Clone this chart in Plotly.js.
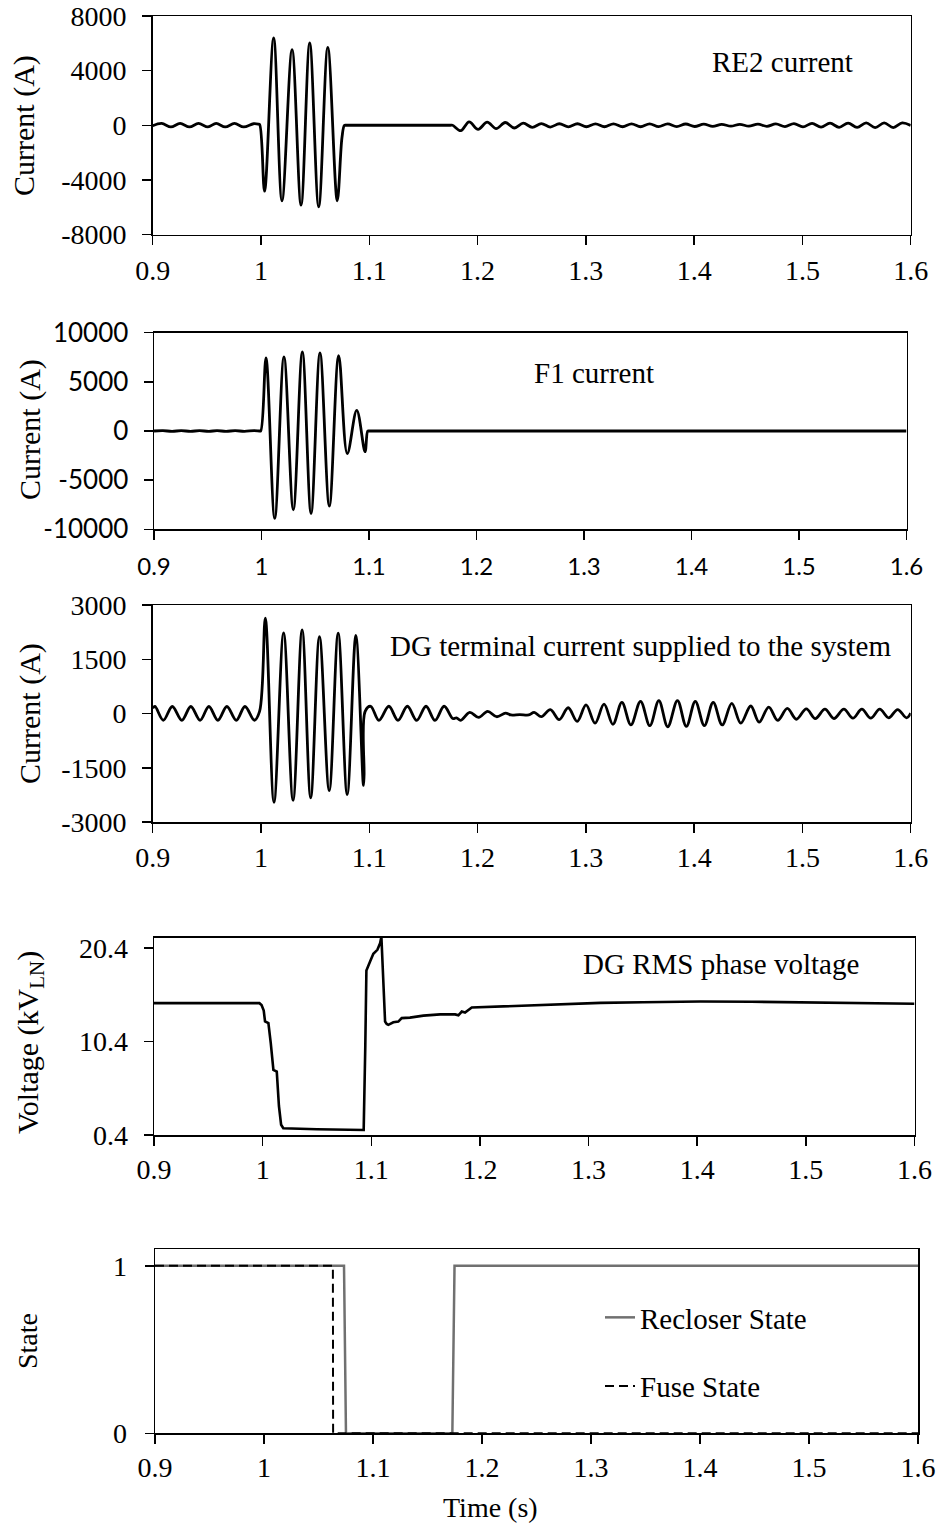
<!DOCTYPE html>
<html>
<head>
<meta charset="utf-8">
<script src="https://cdn.plot.ly/plotly-3.0.1.min.js"></script>
<style>
  html, body { margin: 0; padding: 0; background: #ffffff; }
  #chart { width: 937px; height: 1527px; }
</style>
</head>
<body>
<div id="chart"></div>
<script>
// ---- Recloser RE2 current (A) ----
const re2Time = [
  0.9000, 0.9083, 0.9168, 0.9253, 0.9340, 0.9423, 0.9510, 0.9586, 0.9670, 0.9755, 0.9840, 0.9931, 0.9975, 0.9988,
  1.0033, 1.0117, 1.0194, 1.0287, 1.0370, 1.0450, 1.0533, 1.0617, 1.0704, 1.0748, 1.0771, 1.0790,
  1.1750, 1.1769,
  1.1845, 1.1922, 1.2005, 1.2089, 1.2172, 1.2255, 1.2339, 1.2422, 1.2505, 1.2589,
  1.2672, 1.2755, 1.2839, 1.2922, 1.3005, 1.3089, 1.3172, 1.3255, 1.3339, 1.3422,
  1.3505, 1.3589, 1.3672, 1.3755, 1.3839, 1.3922, 1.4005, 1.4089, 1.4172, 1.4255,
  1.4339, 1.4422, 1.4505, 1.4589, 1.4672, 1.4755, 1.4839, 1.4922, 1.5005, 1.5089,
  1.5172, 1.5255, 1.5339, 1.5422, 1.5505, 1.5589, 1.5672, 1.5755, 1.5839, 1.5922, 1.6000
];
const re2Current = [
  -40, 130, -120, 130, -120, 130, -120, 130, -120, 130, -120, 110, 80, 40,
  -4830, 6390, -5530, 5535, -5850, 6025, -5970, 5700, -5530, -900, 0, 0,
  0, 0,
  -400, 250, -300, 230, -250, 200, -200, 150, -150, 120,
  -130, 110, -120, 110, -110, 100, -110, 100, -110, 100,
  -110, 100, -100, 100, -100, 90, -90, 80, -80, 70,
  -70, 70, -70, 80, -80, 100, -100, 120, -120, 140,
  -140, 150, -150, 160, -160, 170, -170, 170, -170, 170, -20
];

// ---- Fuse F1 current (A) ----
const f1Time = [
  0.9000, 0.9083, 0.9168, 0.9253, 0.9340, 0.9423, 0.9510, 0.9586, 0.9670, 0.9755, 0.9840, 0.9931, 0.9980, 0.9993,
  1.0042, 1.0123, 1.0209, 1.0296, 1.0380, 1.0461, 1.0544, 1.0631, 1.0718, 1.0798, 1.0886, 1.0963,
  1.0988, 1.1000, 1.6000
];
const f1Current = [
  0, 40, -40, 40, -40, 40, -40, 40, -40, 40, -40, 40, 0, 0,
  7434, -8894, 7535, -8012, 8043, -8387, 7941, -7637, 7677, -2302, 2100, -2100,
  0, 0, 0
];

// ---- DG terminal current supplied to the system (A) ----
const dgTime = [
  0.9000, 0.9021, 0.9098, 0.9181, 0.9269, 0.9352, 0.9438, 0.9519, 0.9602, 0.9685, 0.9772, 0.9852, 0.9938, 0.9987,
  1.0040, 1.0120, 1.0209, 1.0296, 1.0380, 1.0459, 1.0540, 1.0630, 1.0713, 1.0796, 1.0876, 1.0946,
  1.0952, 1.0962,
  1.1013, 1.1089, 1.1181, 1.1265, 1.1352, 1.1438, 1.1524, 1.1607, 1.1691,
  1.1772, 1.1805, 1.1845, 1.1928, 1.2010, 1.2093, 1.2176, 1.2258, 1.2308, 1.2390, 1.2473, 1.2523, 1.2589,
  1.2672, 1.2754, 1.2837, 1.2920, 1.3002, 1.3085, 1.3168, 1.3250, 1.3333, 1.3416,
  1.3505, 1.3591, 1.3674, 1.3756, 1.3846, 1.3928, 1.4011, 1.4094, 1.4176, 1.4259,
  1.4348, 1.4431, 1.4523, 1.4600, 1.4689, 1.4772, 1.4861, 1.4944, 1.5036, 1.5119,
  1.5208, 1.5291, 1.5383, 1.5466, 1.5549, 1.5631, 1.5714, 1.5797, 1.5879, 1.5962, 1.6000
];
const dgCurrent = [
  150, 194, -186, 194, -186, 194, -186, 194, -186, 194, -186, 194, -186, 60,
  2639, -2456, 2230, -2400, 2314, -2333, 2128, -2130, 2222, -2241, 2156, -1990,
  -1700, 60,
  200, -190, 200, -190, 200, -190, 200, -190, 200,
  -139, -119, -188, 30, -109, 60, -89, 10, -40, -30, -40, 30, -89,
  109, -169, 159, -218, 238, -268, 258, -298, 308, -317,
  337, -337, 357, -367, 357, -357, 337, -337, 308, -317,
  278, -268, 208, -238, 179, -188, 139, -159, 129, -139,
  119, -139, 119, -129, 119, -129, 119, -119, 109, -119, 10
];

// ---- DG RMS phase voltage (kV line-to-neutral) ----
const vTime = [
  0.9000, 0.9970, 0.9990, 1.0010, 1.0022, 1.0053, 1.0075, 1.0099, 1.0130, 1.0150, 1.0170, 1.0190,
  1.0500, 1.0930, 1.0945, 1.0955, 1.0989, 1.1019, 1.1056, 1.1081, 1.1093,
  1.1127, 1.1142, 1.1157, 1.1203, 1.1249, 1.1280, 1.1356, 1.1480, 1.1634,
  1.1772, 1.1802, 1.1833, 1.1863, 1.1925, 1.2094, 1.2554, 1.3109, 1.3500,
  1.4029, 1.4500, 1.4949, 1.5500, 1.6000
];
const vRms = [
  14.5, 14.5, 14.3, 13.7, 12.55, 12.36, 10.2, 7.36, 7.18, 3.5, 1.5, 1.12,
  1.02, 0.94, 10.0, 18.0, 18.95, 19.78, 20.2, 20.9, 21.6,
  12.53, 12.28, 12.18, 12.45, 12.53, 12.9, 12.95, 13.17, 13.3,
  13.3, 13.2, 13.6, 13.5, 14.03, 14.1, 14.26, 14.53, 14.6,
  14.67, 14.65, 14.6, 14.5, 14.43
];

// ---- Protective device states ----
const recloserTime = [0.9000, 1.0734, 1.0752, 1.1728, 1.1748, 1.6000];
const recloserState = [1, 1, 0, 0, 1, 1];
const fuseTime = [0.9000, 1.0632, 1.0634, 1.6000];
const fuseState = [1, 1, 0, 0];

// ---- Tick labels ----
const timeTicks = [0.9, 1.0, 1.1, 1.2, 1.3, 1.4, 1.5, 1.6];
const timeLabels = ['0.9', '1', '1.1', '1.2', '1.3', '1.4', '1.5', '1.6'];
const re2Ticks = [-8000, -4000, 0, 4000, 8000];
const re2Labels = ['-8000', '-4000', '0', '4000', '8000'];
const f1Ticks = [-10000, -5000, 0, 5000, 10000];
const f1Labels = ['-10000', '-5000', '0', '5000', '10000'];
const dgTicks = [-3000, -1500, 0, 1500, 3000];
const dgLabels = ['-3000', '-1500', '0', '1500', '3000'];
const vTicks = [0.4, 10.4, 20.4];
const vLabels = ['0.4', '10.4', '20.4'];
const stateTicks = [0, 1];
const stateLabels = ['0', '1'];

// ---- Layout helpers (page pixels -> paper fractions) ----
const W = 937, H = 1527;
const SERIF = 'Liberation Serif, Times New Roman, serif';
const SANS = 'Lato, Liberation Sans, sans-serif';
const fx = px => px / W;
const fy = py => 1 - py / H;

function xAxis(left, right, anchor, font, standoff) {
  return {
    domain: [fx(left), fx(right)], anchor: anchor, range: [0.9, 1.6],
    tickmode: 'array', tickvals: timeTicks, ticktext: timeLabels,
    ticks: 'outside', ticklen: 9, tickwidth: 1.5, tickcolor: '#000',
    showline: true, linecolor: '#000', linewidth: 1.5, mirror: true,
    showgrid: false, zeroline: false, fixedrange: true,
    tickfont: font, ticklabelstandoff: standoff
  };
}
function yAxis(top, bottom, anchor, range, vals, text, font, standoff) {
  return {
    domain: [fy(bottom), fy(top)], anchor: anchor, range: range,
    tickmode: 'array', tickvals: vals, ticktext: text,
    ticks: 'outside', ticklen: 9, tickwidth: 1.5, tickcolor: '#000',
    showline: true, linecolor: '#000', linewidth: 1.5, mirror: true,
    showgrid: false, zeroline: false, fixedrange: true,
    tickfont: font, ticklabelstandoff: standoff
  };
}

const serifTick = { family: SERIF, size: 28, color: '#000' };
const sansTickY = { family: SANS, size: 26, color: '#000' };
const sansTickX = { family: SANS, size: 24, color: '#000' };
const waveLine = { color: '#000', width: 2.8, shape: 'spline', smoothing: 1 };

const traces = [
  { x: re2Time, y: re2Current, xaxis: 'x', yaxis: 'y', mode: 'lines', line: waveLine, showlegend: false, hoverinfo: 'skip' },
  { x: f1Time, y: f1Current, xaxis: 'x2', yaxis: 'y2', mode: 'lines', line: waveLine, showlegend: false, hoverinfo: 'skip' },
  { x: dgTime, y: dgCurrent, xaxis: 'x3', yaxis: 'y3', mode: 'lines', line: waveLine, showlegend: false, hoverinfo: 'skip' },
  { x: vTime, y: vRms, xaxis: 'x4', yaxis: 'y4', mode: 'lines', line: { color: '#000', width: 2.6 }, showlegend: false, hoverinfo: 'skip' },
  { x: recloserTime, y: recloserState, xaxis: 'x5', yaxis: 'y5', mode: 'lines', name: 'Recloser State',
    legendgroup: 'rec', line: { color: '#707070', width: 2.5 }, hoverinfo: 'skip' },
  { x: fuseTime, y: fuseState, xaxis: 'x5', yaxis: 'y5', mode: 'lines', name: 'Fuse State',
    legendgroup: 'fuse', line: { color: '#000', width: 2, dash: '9px,5px' }, hoverinfo: 'skip' }
];

function label(text, px, py, size, angle) {
  return {
    text: text, xref: 'paper', yref: 'paper', x: fx(px), y: fy(py),
    xanchor: 'center', yanchor: 'middle', showarrow: false, textangle: angle || 0,
    font: { family: SERIF, size: size, color: '#000' }
  };
}

const layout = {
  width: W, height: H,
  margin: { l: 0, r: 0, t: 0, b: 0 },
  paper_bgcolor: '#fff', plot_bgcolor: '#fff',
  showlegend: true,
  legend: {
    x: fx(600), y: fy(1292), xanchor: 'left', yanchor: 'top',
    bgcolor: 'rgba(0,0,0,0)', borderwidth: 0,
    traceorder: 'grouped', tracegroupgap: 28,
    font: { family: SERIF, size: 29, color: '#000' }
  },
  xaxis: xAxis(152.7, 910.7, 'y', serifTick, 1),
  yaxis: yAxis(16, 234.5, 'x', [-8000, 8000], re2Ticks, re2Labels, serifTick, 10),
  xaxis2: xAxis(154, 906.5, 'y2', sansTickX, 6),
  yaxis2: yAxis(332.7, 529.3, 'x2', [-10000, 10000], f1Ticks, f1Labels, sansTickY, 10),
  xaxis3: xAxis(152.7, 910.7, 'y3', serifTick, 1),
  yaxis3: yAxis(605, 822, 'x3', [-3000, 3000], dgTicks, dgLabels, serifTick, 10),
  xaxis4: xAxis(154, 914.5, 'y4', serifTick, 0),
  yaxis4: yAxis(937.7, 1135, 'x4', [0.4, 21.5], vTicks, vLabels, serifTick, 10),
  xaxis5: xAxis(155, 918, 'y5', serifTick, 0),
  yaxis5: yAxis(1249, 1433.3, 'x5', [0, 1.1], stateTicks, stateLabels, serifTick, 12),
  annotations: [
    label('Current (A)', 24, 126, 30, -90),
    label('Current (A)', 30, 430, 30, -90),
    label('Current (A)', 30, 714, 30, -90),
    label('Voltage (kV<sub>LN</sub>)', 30, 1043, 30, -90),
    label('State', 27, 1341, 28, -90),
    label('RE2 current', 782, 62, 29),
    label('F1 current', 594, 373, 29),
    label('DG terminal current supplied to the system', 640, 646, 29),
    label('DG RMS phase voltage', 721, 964, 29),
    label('Time (s)', 490, 1507, 28)
  ]
};

Plotly.newPlot('chart', traces, layout, { displayModeBar: false, staticPlot: true });
</script>
</body>
</html>
